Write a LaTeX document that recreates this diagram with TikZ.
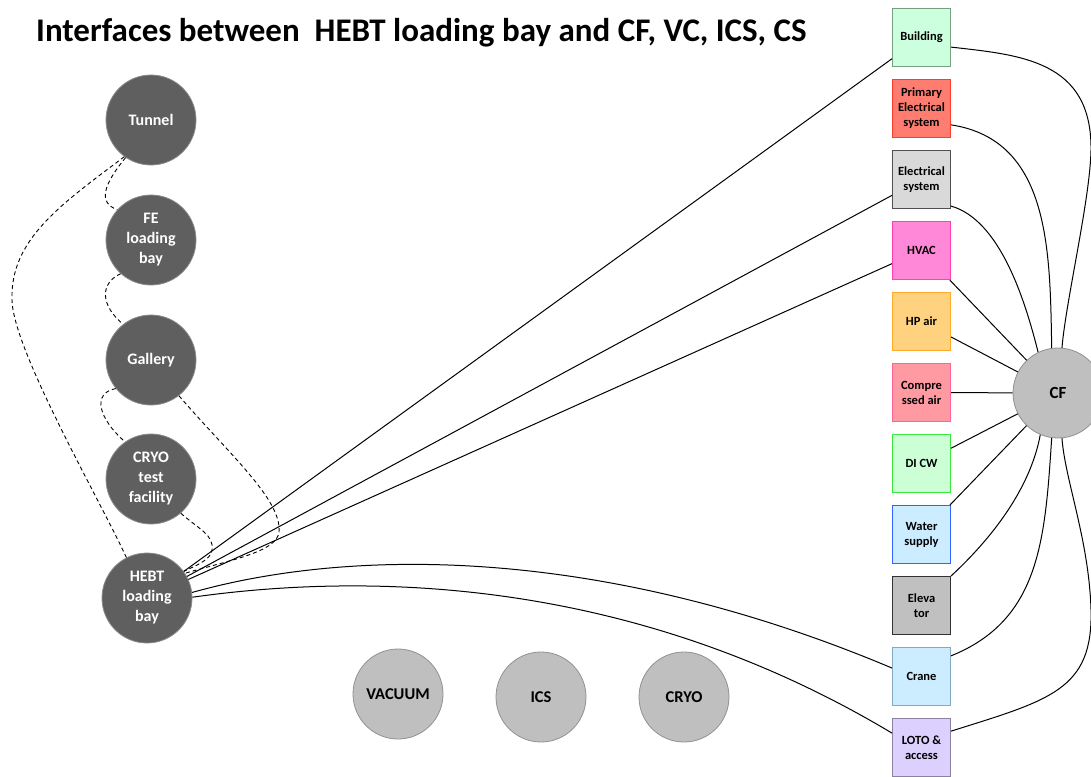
\documentclass[tikz,border=0pt]{standalone}
\usepackage{fontspec}
\setmainfont{Carlito}
\definecolor{zonefill}{RGB}{95,95,95}
\definecolor{zoneedge}{RGB}{140,140,140}
\definecolor{sysfill}{RGB}{191,191,191}
\definecolor{sysedge}{RGB}{145,145,145}
\definecolor{bldfill}{RGB}{204,255,221}\definecolor{bldedge}{RGB}{118,160,130}
\definecolor{prifill}{RGB}{255,124,112}\definecolor{priedge}{RGB}{255,60,40}
\definecolor{elefill}{RGB}{217,217,217}\definecolor{eleedge}{RGB}{80,80,80}
\definecolor{hvacfill}{RGB}{255,136,216}\definecolor{hvacedge}{RGB}{255,64,176}
\definecolor{hpfill}{RGB}{255,210,128}\definecolor{hpedge}{RGB}{255,170,40}
\definecolor{cafill}{RGB}{255,153,162}\definecolor{caedge}{RGB}{255,100,150}
\definecolor{dififill}{RGB}{204,255,214}\definecolor{difedge}{RGB}{60,230,60}
\definecolor{wsfill}{RGB}{204,236,255}\definecolor{wsedge}{RGB}{50,100,255}
\definecolor{elvfill}{RGB}{192,192,192}\definecolor{elvedge}{RGB}{50,50,50}
\definecolor{crfill}{RGB}{204,236,255}\definecolor{credge}{RGB}{130,170,190}
\definecolor{lotofill}{RGB}{220,208,255}\definecolor{lotoedge}{RGB}{140,130,160}
\begin{document}
\begin{tikzpicture}[x=1pt,y=-1pt,
  zone/.style={circle, minimum size=90pt, inner sep=0pt, fill=zonefill, draw=zoneedge,
    line width=0.8pt, text=white, align=center, font=\bfseries\fontsize{16}{20}\selectfont},
  system/.style={circle, minimum size=90pt, inner sep=0pt, fill=sysfill, draw=sysedge,
    line width=0.8pt, text=black, align=center, font=\bfseries\fontsize{16.5}{20}\selectfont},
  itembox/.style 2 args={rectangle, minimum width=58pt, minimum height=58pt, inner sep=0pt,
    line width=1pt, fill=#1, draw=#2, align=center, font=\bfseries\fontsize{12.5}{15}\selectfont},
  link/.style={line width=1pt, black},
  dlink/.style={line width=0.9pt, black, dash pattern=on 4pt off 3pt}]
\useasboundingbox (0,0) rectangle (1091,776);
\clip (0,0) rectangle (1091,776);

% heading
\node[anchor=west, inner sep=0pt, font=\bfseries\fontsize{33}{38}\selectfont] (title) at (36,33)
  {Interfaces between\ \ HEBT loading bay and CF, VC, ICS, CS};

% areas of the facility
\node[zone] (tunnel)   at (151,120) {Tunnel};
\node[zone] (fe)       at (151,240) {FE\\loading\\bay};
\node[zone] (gallery)  at (151,360) {Gallery};
\node[zone] (cryotest) at (151,479) {CRYO\\test\\facility};
\node[zone] (hebt)     at (147,598) {HEBT\\loading\\bay};

% other systems
\node[system] (vacuum) at (398,694) {VACUUM};
\node[system] (ics)    at (541,697) {ICS};
\node[system] (cryo)   at (684,697) {CRYO};
\node[system, font=\bfseries\fontsize{17}{20}\selectfont] (cf) at (1058,393) {CF};

% conventional facilities items
\node[itembox={bldfill}{bldedge}]   (building) at (921.5,37.5)  {Building};
\node[itembox={prifill}{priedge}]   (primary)  at (921.5,108.5) {Primary\\Electrical\\system};
\node[itembox={elefill}{eleedge}]   (elec)     at (921.5,179.5) {Electrical\\system};
\node[itembox={hvacfill}{hvacedge}] (hvac)     at (921.5,250.5) {HVAC};
\node[itembox={hpfill}{hpedge}]     (hpair)    at (921.5,321.5) {HP air};
\node[itembox={cafill}{caedge}]     (compair)  at (921.5,392.5) {Compre\\ssed air};
\node[itembox={dififill}{difedge}]  (dicw)     at (921.5,463.5) {DI CW};
\node[itembox={wsfill}{wsedge}]     (water)    at (921.5,534.5) {Water\\supply};
\node[itembox={elvfill}{elvedge}]   (elev)     at (921.5,605.5) {Eleva\\tor};
\node[itembox={crfill}{credge}]     (crane)    at (921.5,676.5) {Crane};
\node[itembox={lotofill}{lotoedge}] (loto)     at (921.5,747.5) {LOTO \&\\access};

% dashed links between areas
\draw[dlink] (tunnel.-124) .. controls (103,185) and (98,203) .. (fe.138);
\draw[dlink] (fe.-132) .. controls (100,283) and (100,305) .. (gallery.128);
\draw[dlink] (gallery.-141) .. controls (92,393) and (98,418) .. (cryotest.125);
\coordinate (lbend) at (12,300);
\draw[dlink] (tunnel.-126) .. controls (60,205) and (10,240) .. (lbend)
  .. controls (13,350) and (100,500) .. (hebt.117);
\coordinate (gbend) at (279,532);
\draw[dlink] (gallery.-52) .. controls (230,455) and (282,500) .. (gbend)
  .. controls (277,552) and (230,560) .. (hebt.33);
\coordinate (cbend) at (212,550);
\draw[dlink] (cryotest.-49) .. controls (200,530) and (214,535) .. (cbend)
  .. controls (211,560) and (195,566) .. (hebt.36);

% HEBT loading bay to CF items
\draw[link] (hebt) -- (building);
\draw[link] (hebt) -- (elec);
\draw[link] (hebt) -- (hvac);
\draw[link] (hebt.7) .. controls (350,548) and (600,545) .. (crane.164);
\draw[link] (hebt.1) .. controls (350,575) and (620,570) .. (loto.154);

% CF items to CF
\coordinate (bbend) at (1091,150);
\draw[link] (building.-18) .. controls (1020,55) and (1092,60) .. (bbend)
  .. controls (1090,200) and (1066,300) .. (cf.85);
\draw[link] (primary.-29) .. controls (1050,140) and (1050,250) .. (cf.98);
\draw[link] (elec.-42) .. controls (1000,220) and (1025,300) .. (cf.116);
\draw[link] (hvac) -- (cf);
\draw[link] (hpair) -- (cf);
\draw[link] (compair) -- (cf);
\draw[link] (dicw) -- (cf);
\draw[link] (water) -- (cf);
\draw[link] (elev.north east) .. controls (990,540) and (1030,490) .. (cf.-113);
\draw[link] (crane.35) .. controls (1040,620) and (1045,540) .. (cf.-98);
\coordinate (lobend) at (1091,610);
\draw[link] (loto.29) .. controls (1050,700) and (1093,690) .. (lobend)
  .. controls (1089,540) and (1065,480) .. (cf.-85);
\end{tikzpicture}
\end{document}
